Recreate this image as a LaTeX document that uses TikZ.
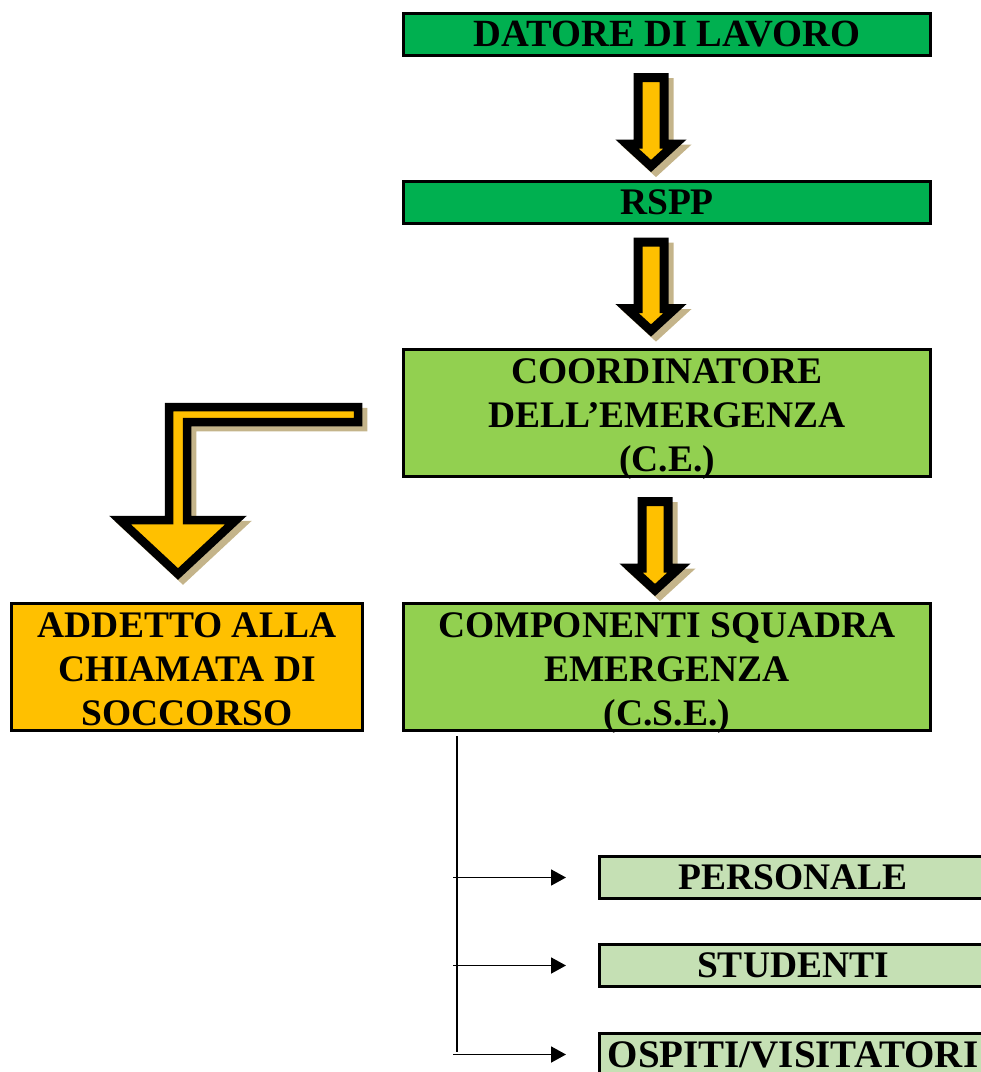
\documentclass[tikz,border=0pt]{standalone}
\usepackage{fontspec}
\setmainfont{Liberation Serif}
\usetikzlibrary{calc,arrows.meta}

\definecolor{darkgreen}{HTML}{00B050}
\definecolor{lightgreen}{HTML}{92D050}
\definecolor{palegreen}{HTML}{C5E0B4}
\definecolor{gold}{HTML}{FFC000}
\definecolor{shadowtan}{HTML}{C4B48A}

\newcommand{\topgap}{\rule{0pt}{29pt}}

\tikzset{
    box/.style={draw=black, line width=3pt, inner sep=0pt, align=center,
        minimum width=527pt, minimum height=42pt,
        font=\fontsize{37.5}{44}\selectfont\bfseries},
    blockarrow/.style={draw=black, fill=gold, line width=9pt},
    arrowshadow/.style={draw=shadowtan, fill=shadowtan, line width=9pt},
}

\begin{document}
\begin{tikzpicture}[x=1pt, y=-1pt]
            \useasboundingbox (0,0) rectangle (981,1072);
            \clip (0,0) rectangle (981,1072);

            \node[box, fill=darkgreen, font=\fontsize{38.5}{44}\selectfont\bfseries] (datore) at (667,34.5) {DATORE DI LAVORO};
            \node[box, fill=darkgreen] (rspp) at (667,202) {RSPP};
            \node[box, fill=lightgreen, minimum height=127pt] (coord) at (667,413)
                {\topgap COORDINATORE\\DELL’EMERGENZA\\\smash{(C.E.)}};
            \node[box, fill=lightgreen, minimum height=127pt] (comp) at (667,667)
                {\topgap COMPONENTI SQUADRA\\EMERGENZA\\\smash{(C.S.E.)}};
            \node[box, fill=gold, minimum width=351pt, minimum height=127pt] (addetto) at (187,667)
                {\topgap ADDETTO ALLA\\CHIAMATA DI\\\smash{SOCCORSO}};
            \node[box, fill=palegreen, minimum width=387pt] (pers) at (793,877.5) {PERSONALE};
            \node[box, fill=palegreen, minimum width=387pt] (stud) at (793,965.5) {STUDENTI};
            \node[box, fill=palegreen, minimum width=387pt, font=\fontsize{39}{44}\selectfont\bfseries] (osp) at (793,1054.5) {OSPITI/VISITATORI};

            % block arrows down the chain
            \coordinate (a1) at ($(datore.south)+(-16,16)$);
            \coordinate (a2) at ($(rspp.south)+(-16,13)$);
            \coordinate (a3) at ($(coord.south)+(-12,19)$);
            \foreach \a in {a1, a2, a3} {
                \foreach \st/\d in {arrowshadow/5, blockarrow/0} {
                    \draw[\st, shift={($(\a)+(\d,\d)$)}] (-13,4.5) -- (13,4.5) -- (13,71) -- (24,71)
                        -- (0,93) -- (-24,71) -- (-13,71) -- cycle;
                }
            }

            % bent arrow to the call operator
            \coordinate (bend) at ($(coord.west)+(-44,-6)$);
            \coordinate (tip) at ($(addetto.north)+(-9,-28)$);
            \foreach \st/\d in {arrowshadow/5, blockarrow/0} {
                \coordinate (b) at ($(bend)+(\d,\d)$);
                \coordinate (t) at ($(tip)+(\d,\d)$);
                \draw[\st, line width=8.5pt] (b) -- ($(t |- b)+(-9,0)$) -- ($(t)+(-9,-54)$)
                    -- ($(t)+(-58,-54)$) -- (t) -- ($(t)+(58,-54)$) -- ($(t)+(9,-54)$)
                    -- ($(t |- b)+(9,15)$) -- ($(b)+(0,15)$) -- cycle;
            }

            % branches
            \coordinate (trunk) at ($(comp.south west)+(55,4)$);
            \draw[line width=1.8pt] (trunk) -- ($(trunk |- osp.west)+(0,-3)$);
            \foreach \n in {pers, stud, osp} {
                \draw[line width=1.8pt, -{Triangle[length=15pt, width=16pt]}]
                    ($(\n.west)+(-145,0)$) -- ($(\n.west)+(-32,0)$);
            }
        \end{tikzpicture}
\end{document}
